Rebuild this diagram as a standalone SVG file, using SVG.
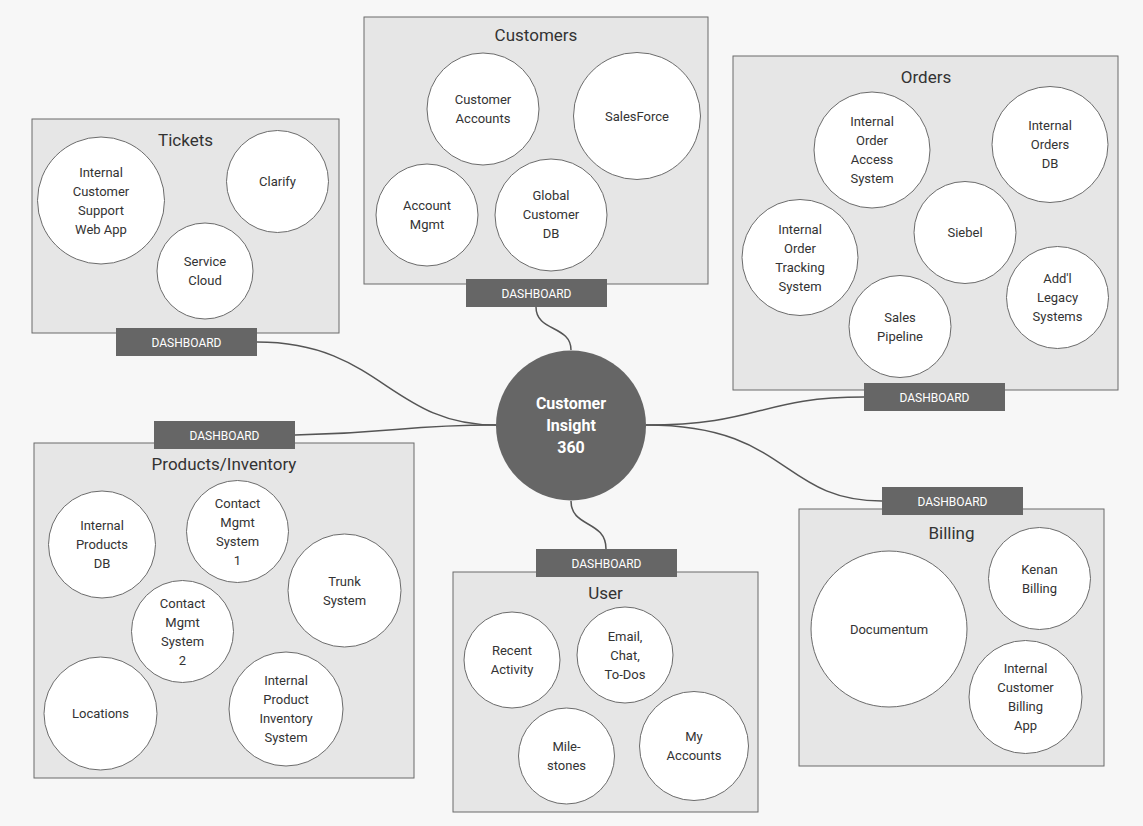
<svg xmlns="http://www.w3.org/2000/svg" width="1143" height="826" viewBox="0 0 1143 826">
<style>
.panel{fill:#e6e6e6;stroke:#6b6b6b;stroke-width:1}
.c{fill:#fff;stroke:#6b6b6b;stroke-width:1}
.lbl{font-family:Roboto,"Liberation Sans",sans-serif;font-size:13px;fill:#333;text-anchor:middle}
.ttl{font-family:Roboto,"Liberation Sans",sans-serif;font-size:17px;fill:#333;text-anchor:middle}
.dash{fill:#666}
.dtx{font-family:Roboto,"Liberation Sans",sans-serif;font-size:12px;fill:#fff;text-anchor:middle}
.conn{fill:none;stroke:#555;stroke-width:1.5}
.hub{fill:#666}
.htx{font-family:Roboto,"Liberation Sans",sans-serif;font-size:16px;font-weight:bold;fill:#fff;text-anchor:middle}
</style>
<rect x="0" y="0" width="1143" height="826" fill="#f7f7f7"/>

<g id="connectors">
<path class="conn" d="M536,307 C536,332 571,325 571,350"/>
<path class="conn" d="M571,501 C571,528 606,520 606,549"/>
<path class="conn" d="M646,425 C760,425 760,397 864,397"/>
<path class="conn" d="M646,425 C790,425 780,501 882,501"/>
<path class="conn" d="M295,435 C400,433 400,425 496,425"/>
<path class="conn" d="M257,342 C380,342 390,425 496,425"/>
</g>

<g id="tickets">
<rect class="panel" x="32" y="119" width="307" height="214"/>
<text class="ttl" x="185.5" y="146">Tickets</text>
<circle class="c" cx="101" cy="200.5" r="63.5"/>
<text class="lbl"><tspan x="101" y="176.5">Internal</tspan><tspan x="101" y="195.5">Customer</tspan><tspan x="101" y="214.5">Support</tspan><tspan x="101" y="233.5">Web App</tspan></text>
<circle class="c" cx="277.5" cy="181.5" r="51"/>
<text class="lbl" x="277.5" y="186">Clarify</text>
<circle class="c" cx="205" cy="271" r="48"/>
<text class="lbl"><tspan x="205" y="266">Service</tspan><tspan x="205" y="285">Cloud</tspan></text>
</g>
<g id="tickets-dashboard">
<rect class="dash" x="116" y="328" width="141" height="28"/>
<text class="dtx" x="186.5" y="346.5">DASHBOARD</text>
</g>

<g id="customers">
<rect class="panel" x="364" y="17" width="344" height="267"/>
<text class="ttl" x="536" y="41">Customers</text>
<circle class="c" cx="483" cy="109" r="56"/>
<text class="lbl"><tspan x="483" y="104">Customer</tspan><tspan x="483" y="123">Accounts</tspan></text>
<circle class="c" cx="637" cy="116" r="63.5"/>
<text class="lbl" x="637" y="120.5">SalesForce</text>
<circle class="c" cx="427" cy="215" r="51"/>
<text class="lbl"><tspan x="427" y="210">Account</tspan><tspan x="427" y="229">Mgmt</tspan></text>
<circle class="c" cx="551" cy="215" r="56"/>
<text class="lbl"><tspan x="551" y="200">Global</tspan><tspan x="551" y="219">Customer</tspan><tspan x="551" y="238">DB</tspan></text>
</g>
<g id="customers-dashboard">
<rect class="dash" x="466" y="279" width="141" height="28"/>
<text class="dtx" x="536.5" y="297.5">DASHBOARD</text>
</g>

<g id="orders">
<rect class="panel" x="733" y="56" width="385" height="334"/>
<text class="ttl" x="926" y="83">Orders</text>
<circle class="c" cx="872" cy="150" r="58"/>
<text class="lbl"><tspan x="872" y="126">Internal</tspan><tspan x="872" y="145">Order</tspan><tspan x="872" y="164">Access</tspan><tspan x="872" y="183">System</tspan></text>
<circle class="c" cx="1050" cy="144.5" r="58"/>
<text class="lbl"><tspan x="1050" y="130">Internal</tspan><tspan x="1050" y="149">Orders</tspan><tspan x="1050" y="168">DB</tspan></text>
<circle class="c" cx="800" cy="257.5" r="58"/>
<text class="lbl"><tspan x="800" y="233.5">Internal</tspan><tspan x="800" y="252.5">Order</tspan><tspan x="800" y="271.5">Tracking</tspan><tspan x="800" y="290.5">System</tspan></text>
<circle class="c" cx="965" cy="232.5" r="51"/>
<text class="lbl" x="965" y="237">Siebel</text>
<circle class="c" cx="900" cy="326.5" r="51"/>
<text class="lbl"><tspan x="900" y="321.5">Sales</tspan><tspan x="900" y="340.5">Pipeline</tspan></text>
<circle class="c" cx="1057.5" cy="297.5" r="51"/>
<text class="lbl"><tspan x="1057.5" y="283">Add'l</tspan><tspan x="1057.5" y="302">Legacy</tspan><tspan x="1057.5" y="321">Systems</tspan></text>
</g>
<g id="orders-dashboard">
<rect class="dash" x="864" y="383" width="141" height="28"/>
<text class="dtx" x="934.5" y="401.5">DASHBOARD</text>
</g>

<g id="products">
<rect class="panel" x="34" y="443" width="380" height="335"/>
<text class="ttl" x="224" y="470">Products/Inventory</text>
<circle class="c" cx="102" cy="544.5" r="53.5"/>
<text class="lbl"><tspan x="102" y="530">Internal</tspan><tspan x="102" y="549">Products</tspan><tspan x="102" y="568">DB</tspan></text>
<circle class="c" cx="237.5" cy="531.5" r="51"/>
<text class="lbl"><tspan x="237.5" y="507.5">Contact</tspan><tspan x="237.5" y="526.5">Mgmt</tspan><tspan x="237.5" y="545.5">System</tspan><tspan x="237.5" y="564.5">1</tspan></text>
<circle class="c" cx="344.5" cy="590.5" r="56.5"/>
<text class="lbl"><tspan x="344.5" y="585.5">Trunk</tspan><tspan x="344.5" y="604.5">System</tspan></text>
<circle class="c" cx="182.5" cy="631.5" r="51"/>
<text class="lbl"><tspan x="182.5" y="607.5">Contact</tspan><tspan x="182.5" y="626.5">Mgmt</tspan><tspan x="182.5" y="645.5">System</tspan><tspan x="182.5" y="664.5">2</tspan></text>
<circle class="c" cx="100.5" cy="713.5" r="56.5"/>
<text class="lbl" x="100.5" y="718">Locations</text>
<circle class="c" cx="286" cy="709" r="57"/>
<text class="lbl"><tspan x="286" y="685">Internal</tspan><tspan x="286" y="704">Product</tspan><tspan x="286" y="723">Inventory</tspan><tspan x="286" y="742">System</tspan></text>
</g>
<g id="products-dashboard">
<rect class="dash" x="154" y="421" width="141" height="28"/>
<text class="dtx" x="224.5" y="439.5">DASHBOARD</text>
</g>

<g id="user">
<rect class="panel" x="453" y="572" width="305" height="240"/>
<text class="ttl" x="605.5" y="599">User</text>
<circle class="c" cx="512" cy="660" r="48"/>
<text class="lbl"><tspan x="512" y="655">Recent</tspan><tspan x="512" y="674">Activity</tspan></text>
<circle class="c" cx="625" cy="655" r="48"/>
<text class="lbl"><tspan x="625" y="640.5">Email,</tspan><tspan x="625" y="659.5">Chat,</tspan><tspan x="625" y="678.5">To-Dos</tspan></text>
<circle class="c" cx="566.5" cy="756" r="48"/>
<text class="lbl"><tspan x="566.5" y="751">Mile-</tspan><tspan x="566.5" y="770">stones</tspan></text>
<circle class="c" cx="694" cy="746" r="54.5"/>
<text class="lbl"><tspan x="694" y="741">My</tspan><tspan x="694" y="760">Accounts</tspan></text>
</g>
<g id="user-dashboard">
<rect class="dash" x="536" y="549" width="141" height="28"/>
<text class="dtx" x="606.5" y="567.5">DASHBOARD</text>
</g>

<g id="billing">
<rect class="panel" x="799" y="509" width="305" height="257"/>
<text class="ttl" x="951.5" y="539">Billing</text>
<circle class="c" cx="889" cy="629" r="78"/>
<text class="lbl" x="889" y="633.5">Documentum</text>
<circle class="c" cx="1039.5" cy="578.5" r="51"/>
<text class="lbl"><tspan x="1039.5" y="573.5">Kenan</tspan><tspan x="1039.5" y="592.5">Billing</tspan></text>
<circle class="c" cx="1025.5" cy="697" r="56.5"/>
<text class="lbl"><tspan x="1025.5" y="673">Internal</tspan><tspan x="1025.5" y="692">Customer</tspan><tspan x="1025.5" y="711">Billing</tspan><tspan x="1025.5" y="730">App</tspan></text>
</g>
<g id="billing-dashboard">
<rect class="dash" x="882" y="487" width="141" height="28"/>
<text class="dtx" x="952.5" y="505.5">DASHBOARD</text>
</g>

<g id="hub">
<circle class="hub" cx="571" cy="425.5" r="75"/>
<text class="htx"><tspan x="571" y="409">Customer</tspan><tspan x="571" y="431">Insight</tspan><tspan x="571" y="453">360</tspan></text>
</g>
</svg>
